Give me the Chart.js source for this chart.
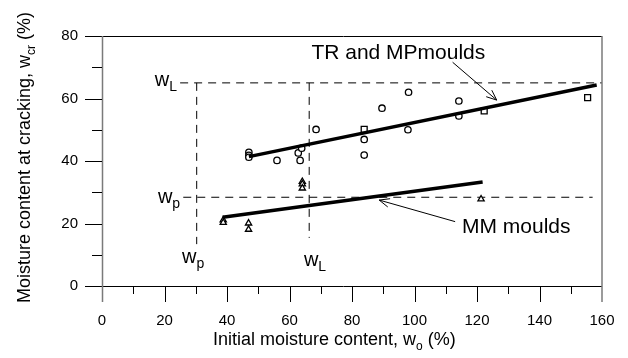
<!DOCTYPE html>
<html>
<head>
<meta charset="utf-8">
<script src="https://cdn.jsdelivr.net/npm/chart.js@4.4.1/dist/chart.umd.min.js"></script>
<style>
    html, body { margin: 0; padding: 0; background: #fff; }
    #wrap { position: relative; width: 628px; height: 358px; }
</style>
</head>
<body>
<div id="wrap"><canvas id="chart"></canvas></div>
<script>
// TR moulds (circles)
const circleX = [47, 47, 47, 56, 62.8, 63.4, 63.9, 68.5, 83.9, 83.9, 89.6, 98.1, 97.9, 114.2, 114.2];
const circleY = [42.8, 41.8, 41.2, 40.2, 42.6, 40.2, 44.1, 50.1, 46.9, 41.9, 56.9, 62, 50, 59.2, 54.4];
// MP moulds (squares)
const squareX = [83.9, 122.3, 155.4];
const squareY = [50.1, 56, 60.3];
// MM moulds (triangles)
const triangleX = [38.8, 38.8, 46.9, 46.9, 64.1, 64.1, 64.1, 121.3];
const triangleY = [21.1, 20.3, 20.1, 18.1, 33.4, 32.6, 31.3, 27.8];

// fitted lines
const trFitX = [47, 158.3];
const trFitY = [41.4, 64.3];
const mmFitX = [38.6, 121.8];
const mmFitY = [22, 33.3];

// liquid / plastic limits
const wL = 65;
const wP = 28.4;
const wLx = 66.3;
const wPx = 30.3;
const wLlineX = [25, 160];
const wPlineX = [26, 157];
const wLvertY = [65, 15.4];
const wPvertY = [65, 13.4];

const xTicks = [0, 20, 40, 60, 80, 100, 120, 140, 160];
const yTicks = [0, 20, 40, 60, 80];

const FONT = '"Liberation Sans", Arial, sans-serif';

function pts(xs, ys) {
    return xs.map((x, i) => ({ x: x, y: ys[i] }));
}

function line(ctx, x1, y1, x2, y2) {
    ctx.beginPath();
    ctx.moveTo(x1, y1);
    ctx.lineTo(x2, y2);
    ctx.stroke();
}

// text made of pieces, some of them subscripts
function drawPieces(ctx, pieces, x, y, size, align) {
    const subSize = Math.round(size * 0.68);
    let total = 0;
    for (let p of pieces) {
        ctx.font = (p.sub ? subSize : size) + "px " + FONT;
        p.w = ctx.measureText(p.t).width;
        total += p.w;
    }
    let cx = x;
    if (align === "right") cx = x - total;
    if (align === "center") cx = x - total / 2;
    ctx.textAlign = "left";
    ctx.textBaseline = "alphabetic";
    for (let p of pieces) {
        ctx.font = (p.sub ? subSize : size) + "px " + FONT;
        ctx.fillText(p.t, cx, p.sub ? y + size * 0.25 : y);
        cx += p.w;
    }
}

function arrow(ctx, x1, y1, x2, y2) {
    line(ctx, x1, y1, x2, y2);
    const ang = Math.atan2(y2 - y1, x2 - x1);
    const len = 11, spread = 0.4;
    line(ctx, x2, y2, x2 - len * Math.cos(ang - spread), y2 - len * Math.sin(ang - spread));
    line(ctx, x2, y2, x2 - len * Math.cos(ang + spread), y2 - len * Math.sin(ang + spread));
}

const framePlugin = {
    id: "frame",
    afterDraw(chart) {
        const ctx = chart.ctx;
        const a = chart.chartArea;
        const xs = chart.scales.x;
        const ys = chart.scales.y;
        const px = v => xs.getPixelForValue(v);
        const py = v => ys.getPixelForValue(v);
        ctx.save();

        // frame
        ctx.strokeStyle = "#000";
        ctx.lineWidth = 1;
        line(ctx, a.left - 17, Math.round(py(80)) + 0.5, a.right, Math.round(py(80)) + 0.5);
        line(ctx, a.left - 17, Math.round(py(0)) + 0.5, a.right, Math.round(py(0)) + 0.5);
        ctx.strokeStyle = "#7a7a7a";
        ctx.lineWidth = 1.5;
        line(ctx, px(0) + 0.5, a.top, px(0) + 0.5, a.bottom + 16);
        line(ctx, px(160), a.top, px(160), a.bottom + 16);

        // tick marks
        ctx.strokeStyle = "#000";
        ctx.lineWidth = 1;
        for (let v = 10; v < 80; v += 20) {
            line(ctx, a.left - 10, Math.round(py(v)) + 0.5, a.left, Math.round(py(v)) + 0.5);
        }
        for (let v of yTicks.slice(1, 4)) {
            line(ctx, a.left - 17, Math.round(py(v)) + 0.5, a.left, Math.round(py(v)) + 0.5);
        }
        for (let v = 10; v < 160; v += 20) {
            line(ctx, Math.round(px(v)) + 0.5, a.bottom, Math.round(px(v)) + 0.5, a.bottom + 8);
        }
        for (let v of xTicks.slice(1, 8)) {
            line(ctx, Math.round(px(v)) + 0.5, a.bottom, Math.round(px(v)) + 0.5, a.bottom + 16);
        }

        // axis titles
        ctx.fillStyle = "#000";
        drawPieces(ctx, [{ t: "Initial moisture content, w" }, { t: "o", sub: true }, { t: " (%)" }], 213, 345, 18, "left");
        ctx.save();
        ctx.translate(30, 303);
        ctx.rotate(-Math.PI / 2);
        drawPieces(ctx, [{ t: "Moisture content at cracking, w" }, { t: "cr", sub: true }, { t: " (%)" }], 0, 0, 18, "left");
        ctx.restore();

        // limit labels
        drawPieces(ctx, [{ t: "w" }, { t: "L", sub: true }], px(24), py(64), 20, "right");
        drawPieces(ctx, [{ t: "w" }, { t: "p", sub: true }], px(25), py(26.6), 20, "right");
        drawPieces(ctx, [{ t: "w" }, { t: "p", sub: true }], px(25.6), py(7.4), 20, "left");
        drawPieces(ctx, [{ t: "w" }, { t: "L", sub: true }], px(64.6), py(6.4), 20, "left");

        // annotations
        drawPieces(ctx, [{ t: "TR and MPmoulds" }], px(67), py(72.5), 21, "left");
        drawPieces(ctx, [{ t: "MM moulds" }], px(115.2), py(17), 21, "left");
        ctx.lineWidth = 1;
        arrow(ctx, px(112.2), py(71.6), px(126.3), py(59.5));
        arrow(ctx, px(113), py(20.6), px(88.7), py(27.5));

        ctx.restore();
    }
};

const dashed = [8, 6];

new Chart(document.getElementById("chart"), {
    type: "scatter",
    data: {
        datasets: [
            {
                type: "line",
                data: pts(trFitX, trFitY),
                borderColor: "#000",
                borderWidth: 3.5,
                pointRadius: 0,
            },
            {
                type: "line",
                data: pts(mmFitX, mmFitY),
                borderColor: "#000",
                borderWidth: 3.5,
                pointRadius: 0,
            },
            {
                data: pts(circleX, circleY),
                pointStyle: "circle",
                pointRadius: 3.2,
                borderColor: "#000",
                backgroundColor: "#fff",
                pointBorderWidth: 1.3,
            },
            {
                data: pts(squareX, squareY),
                pointStyle: "rect",
                pointRadius: 4.2,
                borderColor: "#000",
                backgroundColor: "#fff",
                pointBorderWidth: 1.3,
            },
            {
                data: pts(triangleX, triangleY),
                pointStyle: "triangle",
                pointRadius: 3.6,
                borderColor: "#000",
                backgroundColor: "#fff",
                pointBorderWidth: 1.3,
            },
            {
                type: "line",
                data: pts(wLlineX, [wL, wL]),
                borderColor: "#000",
                borderWidth: 1,
                borderDash: dashed,
                pointRadius: 0,
            },
            {
                type: "line",
                data: pts(wPlineX, [wP, wP]),
                borderColor: "#000",
                borderWidth: 1,
                borderDash: dashed,
                pointRadius: 0,
            },
            {
                type: "line",
                data: pts([wLx, wLx], wLvertY),
                borderColor: "#000",
                borderWidth: 1,
                borderDash: dashed,
                pointRadius: 0,
            },
            {
                type: "line",
                data: pts([wPx, wPx], wPvertY),
                borderColor: "#000",
                borderWidth: 1,
                borderDash: dashed,
                pointRadius: 0,
            },
        ],
    },
    options: {
        responsive: true,
        maintainAspectRatio: false,
        animation: false,
        layout: {
            padding: { left: 0, right: 26, top: 36, bottom: 0 },
        },
        plugins: {
            legend: { display: false },
            tooltip: { enabled: false },
        },
        scales: {
            x: {
                type: "linear",
                min: 0,
                max: 160,
                afterFit: scale => {
                    scale.height = 72;
                    scale.paddingLeft = 0;
                    scale.paddingRight = 0;
                },
                grid: { display: false, drawTicks: false },
                border: { display: false },
                ticks: {
                    stepSize: 20,
                    padding: 26,
                    color: "#000",
                    maxRotation: 0,
                    font: { family: FONT, size: 15 },
                },
            },
            y: {
                type: "linear",
                min: 0,
                max: 80,
                afterFit: scale => {
                    scale.width = 102;
                    scale.paddingTop = 0;
                    scale.paddingBottom = 0;
                },
                grid: { display: false, drawTicks: false },
                border: { display: false },
                ticks: {
                    stepSize: 20,
                    padding: 24,
                    color: "#000",
                    font: { family: FONT, size: 15 },
                },
            },
        },
    },
    plugins: [framePlugin],
});
</script>
</body>
</html>
